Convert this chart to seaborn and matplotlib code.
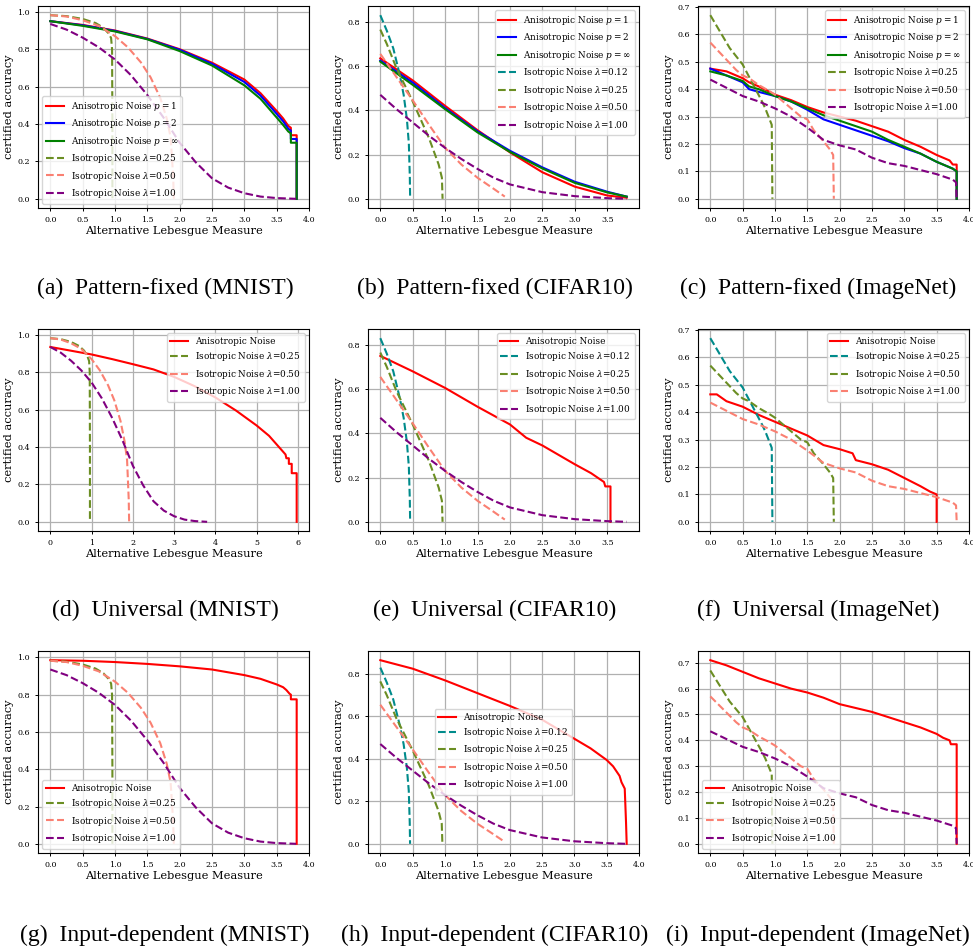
import matplotlib
matplotlib.use("Agg")
import matplotlib.pyplot as plt
from matplotlib.ticker import MultipleLocator, FormatStrFormatter
import seaborn as sns

plt.rcParams["font.family"] = "DejaVu Serif"
plt.rcParams["mathtext.fontset"] = "dejavuserif"

# ---------------- MNIST, isotropic noise (same curves in a, d, g)
m_iso025_x = [0, 0.25, 0.5, 0.7, 0.82, 0.9, 0.94, 0.955, 0.96, 0.96]
m_iso025_y = [0.982, 0.977, 0.962, 0.94, 0.915, 0.885, 0.86, 0.80, 0.40, 0.0]
m_iso050_x = [0, 0.25, 0.5, 0.75, 1.0, 1.2, 1.4, 1.55, 1.7, 1.8, 1.86, 1.9, 1.91]
m_iso050_y = [0.982, 0.975, 0.955, 0.925, 0.87, 0.81, 0.73, 0.65, 0.54, 0.43, 0.33, 0.12, 0.0]
m_iso100_x = [0, 0.25, 0.5, 0.75, 1.0, 1.25, 1.5, 1.75, 2.0, 2.25, 2.5, 2.75, 3.0, 3.25, 3.5, 3.8]
m_iso100_y = [0.935, 0.905, 0.862, 0.81, 0.745, 0.66, 0.555, 0.435, 0.30, 0.195, 0.11, 0.06, 0.03, 0.012, 0.004, 0.0]

# MNIST, anisotropic
m_pf_x = [0, 0.5, 1.0, 1.5, 2.0, 2.5, 3.0, 3.25, 3.5, 3.6, 3.68, 3.72, 3.72, 3.81, 3.81]
m_pf_p1 = [0.95, 0.93, 0.90, 0.857, 0.80, 0.728, 0.638, 0.565, 0.47, 0.43, 0.39, 0.38, 0.34, 0.34, 0.0]
m_pf_p2 = [0.95, 0.928, 0.898, 0.855, 0.797, 0.722, 0.625, 0.552, 0.455, 0.415, 0.375, 0.365, 0.32, 0.32, 0.0]
m_pf_pinf = [0.95, 0.925, 0.895, 0.853, 0.79, 0.713, 0.607, 0.535, 0.435, 0.395, 0.36, 0.35, 0.30, 0.30, 0.0]
m_uni_x = [0, 0.5, 1.0, 1.5, 2.0, 2.5, 3.0, 3.5, 4.0, 4.5, 5.0, 5.3, 5.5, 5.6, 5.7, 5.72,
           5.78, 5.78, 5.85, 5.85, 5.97, 5.97]
m_uni_y = [0.935, 0.915, 0.895, 0.87, 0.843, 0.815, 0.775, 0.725, 0.665, 0.595, 0.515, 0.46,
           0.41, 0.385, 0.36, 0.34, 0.34, 0.31, 0.31, 0.26, 0.26, 0.0]
m_inp_x = [0, 0.5, 1.0, 1.5, 2.0, 2.5, 3.0, 3.25, 3.5, 3.6, 3.65, 3.7, 3.72, 3.72, 3.81, 3.81]
m_inp_y = [0.985, 0.982, 0.975, 0.965, 0.952, 0.935, 0.905, 0.885, 0.855, 0.84, 0.825, 0.805,
           0.80, 0.775, 0.775, 0.0]

# ---------------- CIFAR10, isotropic noise (same curves in b, e, h)
c_iso012_x = [0, 0.1, 0.2, 0.3, 0.36, 0.41, 0.44, 0.455, 0.46]
c_iso012_y = [0.83, 0.76, 0.68, 0.56, 0.47, 0.36, 0.25, 0.1, 0.0]
c_iso025_x = [0, 0.1, 0.25, 0.5, 0.75, 0.9, 0.95, 0.96]
c_iso025_y = [0.765, 0.70, 0.59, 0.44, 0.275, 0.155, 0.095, 0.0]
c_iso050_x = [0, 0.25, 0.5, 0.75, 1.0, 1.25, 1.5, 1.75, 1.92]
c_iso050_y = [0.655, 0.55, 0.445, 0.335, 0.23, 0.155, 0.095, 0.045, 0.01]
c_iso100_x = [0, 0.25, 0.5, 0.75, 1.0, 1.25, 1.5, 1.75, 2.0, 2.5, 3.0, 3.5, 3.8]
c_iso100_y = [0.47, 0.405, 0.345, 0.285, 0.23, 0.18, 0.135, 0.095, 0.065, 0.03, 0.012, 0.003, 0.0]

# CIFAR10, anisotropic
c_pf_x = [0, 0.5, 1.0, 1.5, 2.0, 2.5, 3.0, 3.5, 3.8]
c_pf_p1 = [0.635, 0.535, 0.42, 0.31, 0.21, 0.12, 0.055, 0.015, 0.005]
c_pf_p2 = [0.625, 0.525, 0.41, 0.305, 0.217, 0.142, 0.077, 0.032, 0.01]
c_pf_pinf = [0.62, 0.515, 0.405, 0.30, 0.212, 0.137, 0.072, 0.029, 0.01]
c_uni_x = [0, 0.5, 1.0, 1.5, 2.0, 2.25, 2.5, 3.0, 3.25, 3.4, 3.45, 3.47, 3.55, 3.55]
c_uni_y = [0.75, 0.68, 0.605, 0.52, 0.44, 0.38, 0.345, 0.26, 0.22, 0.19, 0.18, 0.16, 0.16, 0.0]
c_inp_x = [0, 0.5, 1.0, 1.5, 2.0, 2.5, 3.0, 3.25, 3.5, 3.6, 3.7, 3.73, 3.78, 3.8, 3.81]
c_inp_y = [0.865, 0.825, 0.77, 0.71, 0.65, 0.585, 0.495, 0.45, 0.395, 0.365, 0.32, 0.29, 0.26, 0.1, 0.0]

# ---------------- ImageNet, isotropic noise (same curves in c, f, i)
i_iso025_x = [0, 0.1, 0.2, 0.3, 0.4, 0.5, 0.6, 0.7, 0.8, 0.85, 0.9, 0.95, 0.96]
i_iso025_y = [0.67, 0.63, 0.59, 0.55, 0.52, 0.49, 0.445, 0.40, 0.355, 0.33, 0.30, 0.27, 0.0]
i_iso050_x = [0, 0.2, 0.4, 0.5, 0.6, 0.75, 0.9, 1.0, 1.2, 1.4, 1.5, 1.6, 1.75, 1.85, 1.9, 1.91]
i_iso050_y = [0.57, 0.52, 0.47, 0.45, 0.44, 0.415, 0.395, 0.38, 0.34, 0.30, 0.29, 0.25, 0.21, 0.18, 0.16, 0.0]
i_iso100_x = [0, 0.25, 0.5, 0.75, 1.0, 1.25, 1.5, 1.75, 2.0, 2.25, 2.5, 2.75, 3.0, 3.25, 3.5, 3.75, 3.8, 3.81]
i_iso100_y = [0.435, 0.405, 0.375, 0.355, 0.33, 0.30, 0.26, 0.215, 0.195, 0.18, 0.15, 0.13, 0.12,
              0.105, 0.09, 0.07, 0.06, 0.0]

# ImageNet, anisotropic
i_pf_x = [0, 0.25, 0.5, 0.6, 0.75, 1.0, 1.25, 1.5, 1.75, 2.0, 2.25, 2.5, 2.75, 3.0, 3.25, 3.5,
          3.7, 3.75, 3.81, 3.81]
i_pf_p1 = [0.475, 0.465, 0.44, 0.425, 0.41, 0.38, 0.36, 0.335, 0.315, 0.30, 0.285, 0.265, 0.245,
           0.215, 0.19, 0.16, 0.14, 0.125, 0.125, 0.0]
i_pf_p2 = [0.475, 0.45, 0.425, 0.40, 0.39, 0.375, 0.355, 0.325, 0.29, 0.27, 0.25, 0.23, 0.21,
           0.185, 0.165, 0.135, 0.115, 0.11, 0.10, 0.0]
i_pf_pinf = [0.465, 0.45, 0.43, 0.41, 0.40, 0.375, 0.355, 0.33, 0.305, 0.285, 0.265, 0.245, 0.215,
             0.19, 0.165, 0.135, 0.115, 0.11, 0.10, 0.0]
i_uni_x = [0, 0.1, 0.25, 0.5, 0.75, 1.0, 1.25, 1.5, 1.75, 2.0, 2.2, 2.25, 2.5, 2.75, 3.0, 3.25,
           3.4, 3.5, 3.5]
i_uni_y = [0.465, 0.465, 0.44, 0.42, 0.39, 0.365, 0.34, 0.315, 0.28, 0.265, 0.25, 0.225, 0.21,
           0.19, 0.16, 0.13, 0.11, 0.10, 0.0]
i_inp_x = [0, 0.25, 0.5, 0.6, 0.75, 1.0, 1.25, 1.5, 1.75, 2.0, 2.25, 2.5, 2.75, 3.0, 3.25, 3.5,
           3.6, 3.7, 3.72, 3.81, 3.81]
i_inp_y = [0.71, 0.69, 0.665, 0.655, 0.64, 0.62, 0.60, 0.585, 0.565, 0.54, 0.525, 0.51, 0.49,
           0.47, 0.45, 0.425, 0.41, 0.40, 0.385, 0.385, 0.0]

captions = [
    "(a)  Pattern-fixed (MNIST)", "(b)  Pattern-fixed (CIFAR10)", "(c)  Pattern-fixed (ImageNet)",
    "(d)  Universal (MNIST)", "(e)  Universal (CIFAR10)", "(f)  Universal (ImageNet)",
    "(g)  Input-dependent (MNIST)", "(h)  Input-dependent (CIFAR10)", "(i)  Input-dependent (ImageNet)",
]

RED, BLUE, GREEN = "red", "blue", "green"
TEAL, OLIVE, SALMON, PURPLE = "darkcyan", "olivedrab", "salmon", "purple"


def aniso(p):
    return r"Anisotropic Noise $p = %s$" % p


def iso(lam):
    return r"Isotropic Noise $\lambda$=%s" % lam


mnist_iso = [(m_iso025_x, m_iso025_y, OLIVE, iso("0.25")),
             (m_iso050_x, m_iso050_y, SALMON, iso("0.50")),
             (m_iso100_x, m_iso100_y, PURPLE, iso("1.00"))]
cifar_iso = [(c_iso012_x, c_iso012_y, TEAL, iso("0.12")),
             (c_iso025_x, c_iso025_y, OLIVE, iso("0.25")),
             (c_iso050_x, c_iso050_y, SALMON, iso("0.50")),
             (c_iso100_x, c_iso100_y, PURPLE, iso("1.00"))]
imnet_iso = [(i_iso025_x, i_iso025_y, OLIVE, iso("0.25")),
             (i_iso050_x, i_iso050_y, SALMON, iso("0.50")),
             (i_iso100_x, i_iso100_y, PURPLE, iso("1.00"))]
imnet_iso_f = [(i_iso025_x, i_iso025_y, TEAL, iso("0.25")),
               (i_iso050_x, i_iso050_y, OLIVE, iso("0.50")),
               (i_iso100_x, i_iso100_y, SALMON, iso("1.00"))]

panels = [
    ([(m_pf_x, m_pf_p1, RED, aniso("1")), (m_pf_x, m_pf_p2, BLUE, aniso("2")),
      (m_pf_x, m_pf_pinf, GREEN, aniso(r"\infty"))], mnist_iso, "lower left", 0.2),
    ([(c_pf_x, c_pf_p1, RED, aniso("1")), (c_pf_x, c_pf_p2, BLUE, aniso("2")),
      (c_pf_x, c_pf_pinf, GREEN, aniso(r"\infty"))], cifar_iso, "upper right", 0.2),
    ([(i_pf_x, i_pf_p1, RED, aniso("1")), (i_pf_x, i_pf_p2, BLUE, aniso("2")),
      (i_pf_x, i_pf_pinf, GREEN, aniso(r"\infty"))], imnet_iso, "upper right", 0.1),
    ([(m_uni_x, m_uni_y, RED, "Anisotropic Noise")], mnist_iso, "upper right", 0.2),
    ([(c_uni_x, c_uni_y, RED, "Anisotropic Noise")], cifar_iso, "upper right", 0.2),
    ([(i_uni_x, i_uni_y, RED, "Anisotropic Noise")], imnet_iso_f, "upper right", 0.1),
    ([(m_inp_x, m_inp_y, RED, "Anisotropic Noise")], mnist_iso, "lower left", 0.2),
    ([(c_inp_x, c_inp_y, RED, "Anisotropic Noise")], cifar_iso, "center", 0.2),
    ([(i_inp_x, i_inp_y, RED, "Anisotropic Noise")], imnet_iso, "lower left", 0.1),
]

W, H = 973, 949
col_left = [38, 368, 698]
col_center = [165, 495, 818]
row_top = [6, 329, 651]
row_caption = [288, 610, 935]
ax_w, ax_h = 271, 202

fig = plt.figure(figsize=(W / 100, H / 100), dpi=100)

for k, (solid, dashed, loc, ystep) in enumerate(panels):
    r, c = divmod(k, 3)
    ax = fig.add_axes([col_left[c] / W, 1 - (row_top[r] + ax_h) / H, ax_w / W, ax_h / H])
    for xs, ys, color, lab in solid:
        sns.lineplot(x=xs, y=ys, ax=ax, color=color, lw=1.5, label=lab,
                     sort=False, estimator=None)
    for xs, ys, color, lab in dashed:
        sns.lineplot(x=xs, y=ys, ax=ax, color=color, lw=1.5, linestyle="--", label=lab,
                     sort=False, estimator=None)
    ax.xaxis.set_major_locator(MultipleLocator(1.0 if k == 3 else 0.5))
    ax.yaxis.set_major_locator(MultipleLocator(ystep))
    if k != 3:
        ax.xaxis.set_major_formatter(FormatStrFormatter("%.1f"))
    ax.yaxis.set_major_formatter(FormatStrFormatter("%.1f"))
    ax.grid(True, color="#b0b0b0", lw=0.9)
    ax.set_axisbelow(True)
    ax.tick_params(labelsize=5.8, length=2.5, width=0.7)
    ax.set_xlabel("Alternative Lebesgue Measure", fontsize=8.2, labelpad=1)
    ax.set_ylabel("certified accuracy", fontsize=8.2, labelpad=2)
    ax.legend(loc=loc, fontsize=6.4)
    fig.text(col_center[c] / W, 1 - row_caption[r] / H, captions[k],
             family="Liberation Serif", fontsize=17, ha="center", va="center")

fig.savefig("out.png", dpi=100)
